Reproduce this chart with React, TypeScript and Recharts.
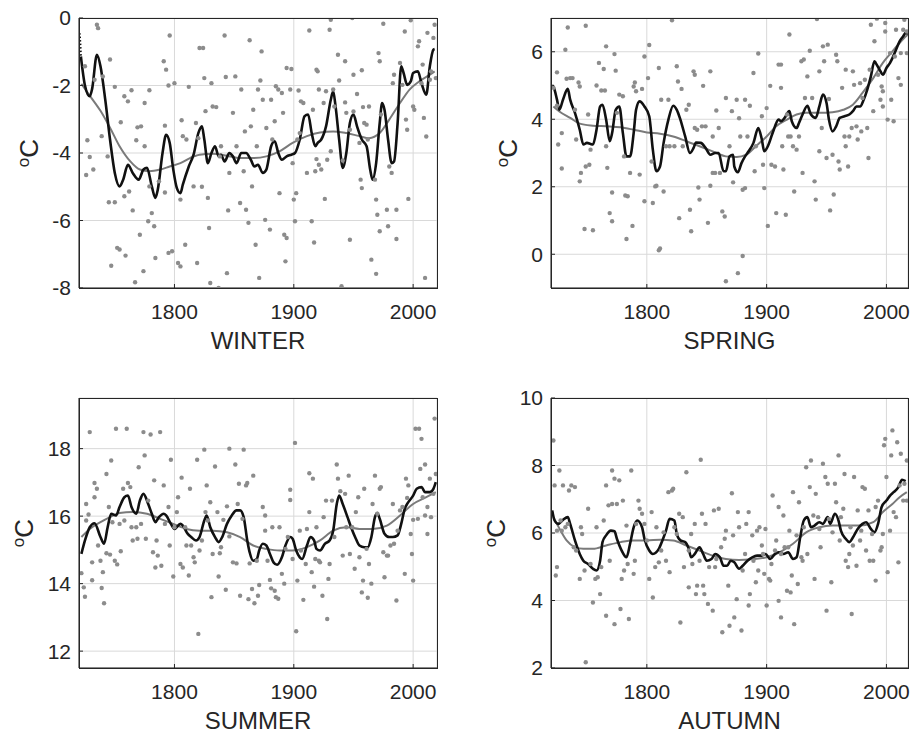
import React from 'react';
import { ComposedChart, Scatter, Line, XAxis, YAxis, CartesianGrid } from 'recharts';

type Pt = [number, number];

const FONT = '"Liberation Sans", Arial, Helvetica, sans-serif';
const TEXT = '#262626';

const X_TICKS = [1800, 1900, 2000];

const WINTER_TICKS = [-8, -6, -4, -2, 0];
const SPRING_TICKS = [0, 2, 4, 6];
const SUMMER_TICKS = [12, 14, 16, 18];
const AUTUMN_TICKS = [2, 4, 6, 8, 10];

const WINTER_DOTS: Pt[] = [[1725,-1.43],[1735,-0.2],[1736,-0.3],[1746,-1.23],[1733,-1.83],[1740,-1.73],[1750,-2.04],[1758,-2.32],[1761,-2.47],[1764,-2.14],[1775,-2.52],[1779,-2.14],[1727,-3.62],[1729,-4.12],[1732,-4.49],[1726,-4.65],[1739,-3.5],[1744,-4.1],[1745,-5.46],[1750,-5.46],[1747,-7.34],[1752,-6.81],[1754,-6.86],[1759,-7.04],[1755,-3.09],[1758,-5.28],[1762,-5.14],[1765,-5.7],[1767,-7.83],[1769,-3.24],[1772,-3.21],[1768,-3.62],[1771,-6.42],[1774,-7.5],[1775,-3.8],[1778,-6.02],[1781,-5.78],[1779,-4.99],[1783,-6.17],[1784,-7.11],[1787,-4.84],[1791,-1.28],[1793,-1.53],[1796,-0.52],[1795,-2.0],[1792,-3.19],[1792,-5.17],[1795,-6.96],[1798,-6.91],[1800,-1.93],[1803,-7.26],[1805,-7.36],[1805,-5.38],[1806,-3.03],[1807,-3.5],[1809,-6.72],[1810,-3.6],[1812,-2.04],[1816,-4.99],[1818,-3.11],[1819,-7.26],[1820,-3.56],[1821,-0.89],[1824,-0.89],[1823,-5.0],[1825,-1.78],[1826,-2.76],[1828,-5.33],[1829,-6.22],[1830,-7.85],[1831,-1.93],[1832,-2.62],[1835,-2.64],[1837,-8.0],[1838,-4.1],[1839,-3.8],[1842,-0.52],[1843,-1.75],[1844,-7.56],[1845,-5.7],[1846,-4.59],[1849,-2.81],[1851,-1.73],[1852,-3.8],[1855,-5.48],[1856,-2.12],[1858,-4.54],[1859,-3.36],[1860,-5.68],[1862,-6.07],[1863,-0.66],[1864,-3.21],[1865,-4.99],[1866,-2.72],[1869,-3.8],[1868,-6.72],[1870,-2.12],[1871,-7.7],[1873,-0.99],[1872,-1.85],[1874,-2.42],[1877,-3.26],[1876,-5.98],[1880,-6.27],[1881,-2.42],[1882,-3.6],[1884,-3.06],[1885,-2.02],[1888,-5.19],[1887,-2.12],[1890,-2.22],[1891,-2.81],[1892,-6.42],[1894,-6.52],[1893,-7.21],[1894,-1.48],[1898,-1.51],[1897,-2.12],[1899,-4.3],[1900,-5.38],[1902,-5.19],[1901,-6.02],[1903,-3.6],[1904,-2.15],[1905,-3.41],[1908,-2.52],[1906,-2.47],[1911,-4.59],[1913,-0.37],[1915,-6.02],[1916,-2.72],[1917,-6.65],[1918,-4.54],[1919,-4.18],[1919,-1.53],[1920,-1.58],[1921,-2.12],[1921,-4.35],[1923,-4.49],[1925,-2.52],[1926,-5.36],[1927,-2.17],[1928,-4.2],[1930,-0.35],[1931,-0.05],[1931,-3.95],[1933,-2.12],[1934,-2.62],[1937,-1.09],[1938,-1.85],[1940,-7.95],[1941,-4.22],[1943,-1.28],[1943,-2.5],[1944,-2.81],[1947,-6.57],[1947,-3.31],[1949,0],[1950,-2.77],[1950,-1.68],[1953,-2.25],[1955,-3.7],[1956,-4.79],[1957,-5.04],[1957,-1.55],[1958,-2.64],[1959,-3.11],[1961,-3.16],[1962,-3.6],[1963,-2.62],[1965,-7.16],[1968,-4.79],[1969,-5.38],[1969,-7.58],[1970,-5.83],[1971,-1.04],[1972,-1.28],[1972,-6.32],[1973,-2.86],[1975,-0.17],[1978,-5.68],[1979,-6.17],[1980,-4.4],[1982,-4.59],[1983,-1.93],[1984,-1.68],[1986,-5.68],[1986,-6.55],[1989,-1.33],[1991,-1.98],[1993,-0.4],[1994,-3.01],[1995,-3.31],[1996,-5.36],[1998,-0.07],[2000,-2.62],[2001,-2.72],[2004,-0.84],[2005,-0.69],[2007,-1.93],[2008,-1.38],[2009,-2.96],[2010,-7.7],[2011,-3.51],[2012,-0.44],[2014,-1.83],[2015,-1.58],[2017,-0.59],[2018,-0.2],[2019,-1.78]];

const WINTER_START: Pt[] = [[1720.6,-0.45],[1721.2,-0.8],[1721.6,-1.14]];

const WINTER_FIT: Pt[] = [[1721.6,-1.14],[1725,-2.0],[1729,-2.32],[1731,-2.1],[1735,-1.09],[1738,-1.43],[1742,-2.42],[1746,-3.6],[1750,-4.59],[1754,-4.99],[1757,-4.79],[1761,-4.35],[1765,-4.59],[1770,-4.79],[1774,-4.49],[1777,-4.44],[1781,-4.99],[1784,-5.33],[1786,-5.09],[1790,-4.0],[1793,-3.46],[1796,-3.7],[1799,-4.49],[1802,-5.04],[1805,-5.19],[1807,-4.94],[1812,-4.4],[1816,-4.05],[1820,-3.41],[1823,-3.21],[1825,-3.6],[1828,-4.3],[1831,-4.0],[1834,-3.8],[1837,-4.1],[1839,-4.05],[1842,-4.25],[1846,-4.0],[1849,-4.1],[1852,-4.3],[1856,-4.0],[1860,-4.0],[1864,-4.2],[1867,-4.4],[1870,-4.35],[1874,-4.59],[1877,-4.49],[1881,-3.8],[1884,-3.65],[1887,-4.0],[1890,-4.2],[1894,-4.1],[1898,-4.05],[1901,-4.0],[1905,-3.6],[1909,-2.91],[1912,-2.86],[1915,-3.41],[1918,-3.8],[1920,-3.7],[1923,-3.6],[1927,-3.21],[1931,-2.42],[1933,-2.17],[1935,-2.62],[1938,-3.6],[1941,-4.44],[1944,-4.0],[1947,-3.11],[1950,-2.86],[1953,-3.21],[1957,-3.6],[1961,-3.8],[1964,-4.49],[1966,-4.79],[1969,-4.3],[1972,-3.11],[1974,-2.52],[1976,-2.72],[1979,-3.6],[1982,-4.3],[1984,-4.25],[1987,-3.11],[1990,-1.43],[1992,-1.63],[1995,-1.98],[1998,-1.88],[2000,-1.63],[2004,-1.58],[2007,-1.93],[2011,-2.27],[2014,-1.43],[2017,-0.94],[2018,-0.92]];

const WINTER_SMOOTH: Pt[] = [[1722,-1.95],[1729,-2.3],[1738,-2.75],[1746,-3.25],[1754,-3.8],[1763,-4.25],[1771,-4.49],[1779,-4.54],[1788,-4.49],[1796,-4.4],[1805,-4.3],[1813,-4.15],[1821,-4.05],[1832,-4.02],[1844,-4.08],[1855,-4.15],[1866,-4.15],[1877,-4.1],[1888,-3.95],[1899,-3.7],[1911,-3.5],[1922,-3.39],[1933,-3.36],[1944,-3.41],[1955,-3.5],[1963,-3.56],[1972,-3.41],[1980,-3.01],[1989,-2.52],[1997,-2.12],[2005,-1.88],[2014,-1.68],[2018,-1.58]];

const SPRING_DOTS: Pt[] = [[1722,4.93],[1725,5.39],[1725,4.4],[1726,3.25],[1729,3.59],[1729,2.54],[1732,6.06],[1734,6.72],[1733,5.2],[1736,5.22],[1738,5.22],[1740,4.28],[1741,3.4],[1743,5.09],[1744,4.97],[1745,2.41],[1744,2.16],[1748,0.75],[1749,6.77],[1751,4.14],[1749,2.6],[1752,2.65],[1753,3.1],[1755,0.71],[1758,5.0],[1760,5.67],[1762,4.85],[1764,5.49],[1765,4.85],[1766,6.16],[1766,3.2],[1767,2.56],[1769,1.22],[1771,1.83],[1771,0.98],[1773,5.93],[1774,5.44],[1775,4.19],[1777,4.73],[1780,4.68],[1781,2.9],[1782,1.74],[1783,0.45],[1784,1.72],[1786,2.41],[1788,0.84],[1789,4.97],[1790,5.09],[1791,4.83],[1794,2.36],[1796,4.9],[1798,5.86],[1798,1.57],[1801,5.22],[1802,6.2],[1804,2.75],[1805,1.52],[1807,2.01],[1808,2.03],[1810,0.12],[1811,0.17],[1810,5.52],[1812,4.58],[1814,1.86],[1816,3.2],[1818,4.58],[1819,3.2],[1821,6.93],[1823,3.2],[1825,5.57],[1826,5.12],[1827,1.07],[1829,4.9],[1830,3.2],[1833,4.28],[1835,4.43],[1836,1.32],[1837,0.68],[1839,5.42],[1840,5.32],[1840,3.74],[1842,3.69],[1843,1.98],[1844,1.62],[1846,3.79],[1847,4.99],[1849,3.79],[1851,0.93],[1853,5.42],[1853,2.03],[1855,2.41],[1855,3.49],[1857,2.41],[1858,4.26],[1860,3.74],[1861,2.41],[1863,1.27],[1865,1.12],[1866,4.63],[1866,-0.8],[1869,3.2],[1871,4.24],[1872,2.13],[1875,4.58],[1876,-0.56],[1877,4.03],[1878,3.49],[1880,1.91],[1880,-0.05],[1882,1.96],[1882,4.58],[1884,3.49],[1886,4.4],[1889,5.37],[1890,2.46],[1891,3.2],[1893,5.95],[1896,4.09],[1897,2.65],[1898,1.96],[1900,4.33],[1901,0.84],[1903,4.99],[1904,2.65],[1907,2.6],[1908,1.22],[1910,5.62],[1912,4.93],[1912,5.62],[1913,3.2],[1914,2.51],[1916,1.17],[1917,4.14],[1918,3.49],[1919,6.51],[1920,3.49],[1922,3.2],[1923,1.86],[1925,3.1],[1927,3.49],[1929,5.72],[1930,2.41],[1931,5.77],[1932,4.63],[1934,5.27],[1936,6.03],[1938,4.63],[1940,2.16],[1941,1.62],[1942,6.97],[1944,5.42],[1944,3.05],[1946,3.74],[1947,6.16],[1948,5.72],[1950,2.85],[1951,6.21],[1952,4.6],[1953,1.3],[1955,2.95],[1956,1.77],[1958,5.91],[1959,5.72],[1960,2.75],[1961,2.51],[1963,4.93],[1965,3.49],[1966,3.2],[1966,5.47],[1968,2.6],[1969,3.49],[1971,3.74],[1972,5.42],[1973,5.02],[1975,3.79],[1976,3.4],[1978,5.07],[1979,3.64],[1980,4.63],[1982,5.17],[1984,3.74],[1985,2.85],[1986,5.47],[1987,6.8],[1989,4.24],[1990,6.31],[1992,6.98],[1993,5.32],[1995,4.58],[1996,4.97],[1997,4.83],[1997,4.38],[1999,6.6],[1999,6.85],[2001,3.99],[2003,5.96],[2004,4.58],[2006,3.94],[2007,5.86],[2008,6.65],[2010,5.22],[2012,5.02],[2012,5.96],[2014,6.65],[2015,6.95],[2017,6.6],[2017,5.96]];

const SPRING_FIT: Pt[] = [[1721,5.0],[1722,4.97],[1725,4.58],[1727,4.28],[1730,4.58],[1734,4.9],[1736,4.58],[1740,4.19],[1744,3.69],[1747,3.25],[1750,3.3],[1753,3.27],[1755,3.25],[1758,3.69],[1761,4.38],[1763,4.43],[1766,3.99],[1769,3.35],[1771,3.59],[1774,4.28],[1777,4.38],[1780,3.59],[1783,2.9],[1786,2.9],[1789,3.59],[1791,4.28],[1794,4.53],[1798,4.38],[1802,4.09],[1805,3.1],[1808,2.46],[1811,2.6],[1814,3.3],[1818,3.99],[1822,4.4],[1825,4.28],[1828,3.99],[1832,3.49],[1836,3.0],[1839,3.15],[1841,3.31],[1845,3.3],[1849,3.15],[1853,2.95],[1857,3.0],[1860,3.0],[1864,2.46],[1866,2.46],[1869,2.9],[1872,2.95],[1873,2.6],[1876,2.43],[1879,2.7],[1882,2.9],[1884,3.0],[1889,3.3],[1893,3.74],[1896,3.4],[1898,3.05],[1901,3.2],[1905,3.59],[1910,3.99],[1912,3.94],[1915,4.04],[1919,4.24],[1921,3.94],[1925,3.74],[1927,3.89],[1930,4.14],[1934,4.4],[1937,4.14],[1941,4.04],[1944,4.38],[1947,4.73],[1950,4.48],[1952,3.99],[1955,3.64],[1958,3.79],[1961,4.04],[1965,4.09],[1969,4.14],[1972,4.24],[1975,4.38],[1978,4.38],[1981,4.58],[1984,4.88],[1987,5.27],[1990,5.72],[1991,5.67],[1995,5.42],[1997,5.32],[2000,5.52],[2003,5.67],[2005,5.81],[2008,6.06],[2011,6.31],[2014,6.46],[2016,6.56],[2018,6.54]];

const SPRING_SMOOTH: Pt[] = [[1722,4.38],[1727,4.23],[1736,4.04],[1744,3.87],[1755,3.81],[1766,3.79],[1778,3.76],[1789,3.69],[1800,3.61],[1811,3.57],[1822,3.49],[1833,3.35],[1844,3.2],[1855,3.05],[1866,2.9],[1875,2.88],[1883,2.95],[1891,3.2],[1900,3.49],[1908,3.79],[1917,3.99],[1925,4.14],[1933,4.19],[1944,4.19],[1955,4.21],[1964,4.28],[1972,4.43],[1980,4.78],[1989,5.22],[1997,5.67],[2005,6.01],[2014,6.38],[2018,6.51]];

const SUMMER_DOTS: Pt[] = [[1722,14.31],[1724,13.89],[1725,13.61],[1726,15.87],[1726,16.36],[1728,16.05],[1729,18.49],[1731,14.63],[1731,14.1],[1733,16.56],[1733,16.98],[1735,16.81],[1736,15.13],[1738,14.68],[1739,13.87],[1740,14.34],[1741,13.42],[1743,17.25],[1743,14.9],[1745,16.27],[1746,14.86],[1747,17.65],[1748,15.82],[1750,14.68],[1751,18.59],[1752,14.57],[1754,15.77],[1755,14.96],[1757,16.81],[1758,15.87],[1760,18.59],[1761,16.98],[1763,16.86],[1764,15.67],[1765,15.28],[1768,15.67],[1769,15.33],[1770,17.45],[1772,15.77],[1774,18.49],[1775,17.8],[1776,15.33],[1778,16.46],[1780,18.42],[1782,14.93],[1783,17.06],[1784,14.48],[1785,15.28],[1786,14.83],[1788,18.49],[1789,14.53],[1791,16.91],[1792,15.77],[1795,16.27],[1796,15.13],[1797,17.67],[1799,14.21],[1800,15.67],[1802,16.12],[1803,16.56],[1805,14.58],[1806,17.14],[1807,14.48],[1809,15.67],[1810,15.13],[1812,14.24],[1813,16.81],[1814,15.13],[1816,14.78],[1817,14.63],[1819,17.67],[1820,12.51],[1821,14.98],[1823,15.28],[1825,17.97],[1826,16.12],[1827,16.91],[1828,15.87],[1830,16.41],[1831,13.6],[1832,14.88],[1834,17.47],[1836,16.12],[1837,14.21],[1838,14.9],[1839,15.08],[1841,15.89],[1843,13.82],[1844,16.29],[1846,18.0],[1846,15.4],[1849,14.63],[1851,17.53],[1852,14.6],[1853,16.36],[1854,16.96],[1855,13.64],[1857,15.92],[1858,17.97],[1860,16.91],[1861,16.98],[1862,13.54],[1863,14.6],[1865,13.84],[1866,17.2],[1867,13.42],[1869,14.68],[1870,13.64],[1871,13.96],[1874,16.27],[1876,15.57],[1876,16.02],[1878,14.68],[1880,14.11],[1881,13.86],[1882,15.67],[1884,13.79],[1885,13.6],[1887,13.55],[1888,15.67],[1890,14.29],[1892,14.0],[1893,15.03],[1895,15.38],[1897,16.78],[1897,16.48],[1899,14.73],[1901,18.17],[1902,12.59],[1903,14.09],[1905,15.57],[1906,14.98],[1908,13.52],[1910,14.58],[1911,15.62],[1913,17.27],[1913,16.12],[1915,14.34],[1916,17.11],[1917,13.91],[1918,14.73],[1919,15.67],[1921,14.68],[1922,14.63],[1924,13.64],[1925,15.97],[1927,16.46],[1928,12.95],[1929,14.14],[1930,14.58],[1932,16.46],[1934,15.38],[1936,17.53],[1937,17.11],[1939,16.74],[1941,14.83],[1943,16.66],[1944,15.67],[1946,17.2],[1947,14.88],[1949,15.67],[1951,14.44],[1952,16.12],[1954,16.56],[1955,14.78],[1957,13.74],[1958,14.09],[1959,16.81],[1961,15.03],[1962,13.58],[1963,14.58],[1965,14.0],[1966,16.36],[1968,17.2],[1970,16.07],[1972,16.81],[1973,16.86],[1975,14.93],[1976,14.19],[1978,14.83],[1979,14.83],[1981,15.13],[1983,16.36],[1984,15.18],[1986,13.5],[1987,15.57],[1989,16.17],[1991,16.27],[1993,14.29],[1994,17.11],[1995,16.54],[1996,16.91],[1998,15.47],[1999,14.88],[2000,14.09],[2000,15.89],[2002,18.59],[2004,15.92],[2005,18.59],[2006,17.4],[2007,18.29],[2008,16.56],[2010,16.02],[2010,17.53],[2012,15.47],[2012,16.27],[2014,17.11],[2015,15.97],[2017,16.66],[2018,18.89],[2019,17.25]];

const SUMMER_FIT: Pt[] = [[1722,14.88],[1725,15.28],[1729,15.67],[1733,15.79],[1738,15.38],[1741,15.18],[1744,15.67],[1747,16.07],[1751,16.02],[1754,16.27],[1758,16.56],[1761,16.61],[1764,16.27],[1768,16.07],[1771,16.46],[1774,16.66],[1778,16.36],[1781,16.07],[1784,15.82],[1787,15.97],[1791,16.07],[1793,16.02],[1797,15.77],[1800,15.62],[1805,15.77],[1807,15.72],[1811,15.48],[1814,15.38],[1818,15.28],[1821,15.38],[1825,15.87],[1827,16.02],[1830,15.67],[1834,15.38],[1837,15.23],[1840,15.38],[1844,15.77],[1848,16.02],[1852,16.17],[1855,16.17],[1858,15.97],[1861,15.28],[1863,14.93],[1866,14.68],[1869,14.73],[1871,14.98],[1874,15.18],[1877,15.13],[1880,14.88],[1883,14.63],[1886,14.56],[1890,14.78],[1893,15.13],[1897,15.38],[1899,15.33],[1902,14.98],[1905,14.78],[1907,14.73],[1911,15.13],[1914,15.38],[1917,15.28],[1919,15.03],[1922,14.98],[1926,15.18],[1930,15.28],[1933,15.57],[1936,16.36],[1938,16.61],[1941,16.36],[1945,15.97],[1948,15.67],[1952,15.33],[1955,15.13],[1959,15.08],[1962,15.08],[1965,15.38],[1968,15.97],[1970,16.09],[1972,15.92],[1976,15.48],[1980,15.38],[1983,15.38],[1987,15.43],[1990,15.77],[1993,16.22],[1995,16.36],[2000,16.61],[2003,16.81],[2007,16.86],[2010,16.71],[2014,16.71],[2017,16.81],[2019,17.01]];

const SUMMER_SMOOTH: Pt[] = [[1722,15.38],[1729,15.62],[1738,15.82],[1746,15.97],[1754,16.09],[1765,16.12],[1777,16.07],[1788,15.92],[1799,15.77],[1810,15.62],[1821,15.57],[1832,15.57],[1844,15.52],[1855,15.38],[1866,15.13],[1877,15.03],[1888,14.98],[1899,14.98],[1911,15.08],[1922,15.28],[1933,15.57],[1944,15.67],[1955,15.62],[1966,15.62],[1978,15.72],[1989,16.02],[2000,16.36],[2011,16.56],[2019,16.71]];

const AUTUMN_DOTS: Pt[] = [[1722,8.74],[1723,7.41],[1724,4.74],[1725,4.99],[1725,6.07],[1727,7.85],[1728,6.37],[1729,6.07],[1730,7.41],[1732,6.17],[1734,6.27],[1735,7.26],[1737,7.41],[1739,5.58],[1740,7.36],[1741,5.48],[1744,4.64],[1745,6.17],[1746,5.97],[1748,4.89],[1749,2.17],[1751,6.72],[1753,5.08],[1755,3.94],[1757,4.64],[1758,6.17],[1759,4.69],[1761,4.19],[1762,4.99],[1764,6.37],[1766,7.41],[1766,3.55],[1768,6.82],[1769,5.18],[1771,7.85],[1771,6.86],[1773,3.3],[1773,7.61],[1775,6.86],[1777,7.56],[1778,3.75],[1779,4.64],[1780,6.96],[1781,4.89],[1783,6.22],[1784,5.08],[1785,3.45],[1787,7.85],[1789,4.79],[1790,5.18],[1791,6.27],[1793,6.96],[1794,6.72],[1796,6.57],[1798,6.27],[1800,5.78],[1802,4.64],[1804,6.62],[1805,4.09],[1807,4.99],[1808,6.17],[1810,5.13],[1812,5.48],[1814,6.02],[1816,5.18],[1818,7.21],[1819,4.84],[1821,7.26],[1822,7.31],[1823,6.17],[1825,5.97],[1827,6.57],[1828,3.35],[1830,6.47],[1831,4.99],[1833,7.8],[1835,5.48],[1835,4.39],[1837,5.97],[1838,5.08],[1840,6.27],[1841,4.19],[1842,4.44],[1844,5.18],[1845,8.17],[1846,6.57],[1847,4.44],[1848,4.19],[1849,6.27],[1851,3.9],[1852,4.99],[1855,3.7],[1856,6.67],[1857,4.99],[1858,5.23],[1860,6.72],[1862,5.58],[1863,3.06],[1865,5.83],[1866,6.07],[1868,4.44],[1869,3.25],[1871,7.18],[1872,5.93],[1873,3.5],[1875,4.04],[1876,6.62],[1877,6.17],[1879,3.11],[1880,4.89],[1882,5.38],[1883,6.27],[1885,3.85],[1885,6.62],[1886,4.19],[1888,5.93],[1889,5.18],[1891,4.54],[1892,6.07],[1893,4.89],[1894,6.17],[1896,5.63],[1897,5.38],[1898,4.79],[1899,6.12],[1900,3.85],[1902,4.64],[1903,4.59],[1904,5.08],[1905,7.11],[1907,5.48],[1908,5.78],[1910,3.99],[1910,6.77],[1912,5.38],[1912,3.5],[1914,6.52],[1915,5.58],[1917,4.29],[1918,5.58],[1919,6.07],[1920,4.24],[1921,4.74],[1922,7.21],[1923,3.3],[1925,5.93],[1926,4.49],[1927,6.91],[1929,5.28],[1930,5.18],[1931,6.17],[1933,7.95],[1934,5.38],[1936,7.36],[1937,8.15],[1939,6.52],[1940,4.64],[1941,7.16],[1943,6.47],[1944,6.12],[1945,5.58],[1947,8.05],[1949,7.66],[1950,3.7],[1951,7.46],[1952,6.42],[1954,4.54],[1955,6.02],[1957,7.46],[1958,6.91],[1960,8.3],[1961,5.78],[1962,6.47],[1964,6.72],[1965,7.75],[1966,5.18],[1968,4.99],[1969,5.38],[1970,6.17],[1971,3.6],[1972,5.63],[1973,7.66],[1975,5.03],[1976,6.67],[1978,5.78],[1979,6.07],[1980,7.36],[1982,7.31],[1983,5.48],[1985,6.67],[1986,5.18],[1988,5.97],[1989,5.18],[1991,6.77],[1991,4.59],[1993,6.96],[1995,5.48],[1996,5.58],[1997,5.97],[1998,8.6],[1999,8.79],[2000,7.66],[2001,4.84],[2003,6.07],[2004,8.3],[2005,9.04],[2006,6.62],[2008,6.47],[2009,8.69],[2010,5.13],[2011,7.41],[2012,8.35],[2014,6.96],[2015,7.46],[2017,8.15],[2017,6.96]];

const AUTUMN_FIT: Pt[] = [[1721,6.67],[1723,6.37],[1726,6.27],[1730,6.39],[1734,6.47],[1736,6.27],[1740,5.78],[1744,5.38],[1747,5.18],[1751,5.08],[1755,4.94],[1758,4.89],[1761,5.18],[1763,5.73],[1766,5.93],[1770,6.07],[1773,6.05],[1775,5.83],[1779,5.48],[1783,5.28],[1786,5.68],[1789,6.17],[1792,6.37],[1796,6.17],[1798,5.83],[1802,5.48],[1805,5.38],[1810,5.53],[1813,5.78],[1816,6.07],[1819,6.42],[1823,6.37],[1825,5.97],[1828,5.78],[1832,5.73],[1835,5.53],[1837,5.28],[1840,5.38],[1844,5.58],[1847,5.38],[1850,5.18],[1854,5.23],[1857,5.38],[1861,5.28],[1864,5.03],[1867,5.03],[1870,5.18],[1873,5.13],[1877,4.94],[1880,5.03],[1884,5.18],[1888,5.28],[1892,5.33],[1896,5.33],[1899,5.38],[1903,5.23],[1907,5.38],[1910,5.43],[1914,5.38],[1918,5.43],[1922,5.23],[1925,5.28],[1928,5.87],[1931,6.37],[1934,6.47],[1937,6.17],[1940,6.22],[1944,6.32],[1947,6.27],[1951,6.47],[1953,6.27],[1957,6.57],[1960,6.37],[1962,6.07],[1966,5.83],[1969,5.73],[1973,5.93],[1976,6.12],[1980,6.27],[1983,6.32],[1987,6.12],[1990,6.02],[1993,6.27],[1996,6.77],[2000,6.96],[2003,7.11],[2006,7.21],[2010,7.36],[2013,7.58],[2016,7.54]];

const AUTUMN_SMOOTH: Pt[] = [[1722,6.47],[1728,6.07],[1733,5.78],[1740,5.58],[1747,5.53],[1755,5.53],[1766,5.63],[1778,5.73],[1789,5.78],[1800,5.78],[1811,5.8],[1822,5.78],[1833,5.63],[1844,5.48],[1855,5.33],[1866,5.23],[1877,5.2],[1889,5.23],[1900,5.28],[1911,5.43],[1922,5.68],[1933,6.02],[1944,6.17],[1955,6.22],[1966,6.22],[1978,6.22],[1989,6.32],[1997,6.62],[2005,6.86],[2011,7.06],[2017,7.21]];

const toXY = (a: Pt[]) => a.map(([x, y]) => ({ x, y }));

const YW = 70;
const PLOT_H = 270;
const M_TOP = 20;
const M_RIGHT = 3;
const XA_H = 40;
const TICK_IN = -4;

const Dot = (p: any) => <circle cx={p.cx} cy={p.cy} r={2.2} fill="#8c8c8c" />;

interface PanelProps {
  plotLeft: number;
  plotTop: number;
  plotW: number;
  xMax: number;
  yDomain: [number, number];
  yTicks: number[];
  dots: Pt[];
  fit: Pt[];
  smooth: Pt[];
  start?: Pt[];
  title: string;
  yLabelX: number;
}

function Panel(p: PanelProps) {
  const width = YW + p.plotW + M_RIGHT;
  const height = M_TOP + PLOT_H + XA_H;
  const tickStyle = { fill: TEXT, fontSize: 21, fontFamily: FONT };
  return (
    <>
      <div style={{ position: 'absolute', left: p.plotLeft - YW, top: p.plotTop - M_TOP }}>
        <ComposedChart width={width} height={height} margin={{ top: M_TOP, right: M_RIGHT, bottom: 0, left: 0 }}>
          <CartesianGrid stroke="#d9d9d9" strokeWidth={1} />
          <XAxis
            type="number"
            dataKey="x"
            domain={[1720, p.xMax]}
            ticks={X_TICKS}
            allowDataOverflow
            height={XA_H}
            tickSize={TICK_IN}
            tickMargin={20}
            tickLine={{ stroke: TEXT }}
            axisLine={{ stroke: TEXT }}
            tick={tickStyle}
          />
          <YAxis
            type="number"
            dataKey="y"
            domain={p.yDomain}
            ticks={p.yTicks}
            allowDataOverflow
            width={YW}
            tickSize={TICK_IN}
            tickMargin={12}
            tickLine={{ stroke: TEXT }}
            axisLine={{ stroke: TEXT }}
            tick={tickStyle}
            interval={0}
          />
          <Scatter data={toXY(p.dots)} shape={Dot} isAnimationActive={false} />
          <Line data={toXY(p.smooth)} dataKey="y" type="monotone" stroke="#7a7a7a" strokeWidth={2} dot={false} isAnimationActive={false} />
          {p.start ? (
            <Line data={toXY(p.start)} dataKey="y" type="linear" stroke="#111111" strokeWidth={2} strokeDasharray="1.5 2" dot={false} isAnimationActive={false} />
          ) : null}
          <Line data={toXY(p.fit)} dataKey="y" type="monotone" stroke="#111111" strokeWidth={2.6} dot={false} isAnimationActive={false} />
        </ComposedChart>
      </div>
      <div
        style={{
          position: 'absolute',
          left: p.plotLeft,
          top: p.plotTop,
          width: p.plotW + 1,
          height: PLOT_H + 1,
          boxSizing: 'border-box',
          border: `1px solid ${TEXT}`,
          pointerEvents: 'none',
        }}
      />
      <div
        style={{
          position: 'absolute',
          left: p.yLabelX,
          top: p.plotTop + PLOT_H / 2,
          transform: 'translate(-50%, -50%) rotate(-90deg)',
          fontFamily: FONT,
          fontSize: 26,
          color: TEXT,
          lineHeight: 1,
          whiteSpace: 'nowrap',
        }}
      >
        <span style={{ fontSize: 17, position: 'relative', top: '-0.55em' }}>o</span>C
      </div>
      <div
        style={{
          position: 'absolute',
          left: p.plotLeft + p.plotW / 2,
          top: p.plotTop + PLOT_H + 53,
          transform: 'translate(-50%, -50%)',
          fontFamily: FONT,
          fontSize: 24,
          color: TEXT,
          lineHeight: '18px',
          whiteSpace: 'nowrap',
        }}
      >
        {p.title}
      </div>
    </>
  );
}

export default function App() {
  return (
    <div style={{ position: 'absolute', left: 0, top: 0, width: 911, height: 734, background: '#ffffff', overflow: 'hidden' }}>
      <Panel plotLeft={79} plotTop={18} plotW={358} xMax={2020} yDomain={[-8, 0]} yTicks={WINTER_TICKS}
        dots={WINTER_DOTS} fit={WINTER_FIT} smooth={WINTER_SMOOTH} start={WINTER_START} title="WINTER" yLabelX={29} />
      <Panel plotLeft={551} plotTop={18} plotW={357} xMax={2018} yDomain={[-1, 7]} yTicks={SPRING_TICKS}
        dots={SPRING_DOTS} fit={SPRING_FIT} smooth={SPRING_SMOOTH} title="SPRING" yLabelX={508} />
      <Panel plotLeft={79} plotTop={398} plotW={358} xMax={2020} yDomain={[11.5, 19.5]} yTicks={SUMMER_TICKS}
        dots={SUMMER_DOTS} fit={SUMMER_FIT} smooth={SUMMER_SMOOTH} title="SUMMER" yLabelX={24} />
      <Panel plotLeft={551} plotTop={398} plotW={357} xMax={2018} yDomain={[2, 10]} yTicks={AUTUMN_TICKS}
        dots={AUTUMN_DOTS} fit={AUTUMN_FIT} smooth={AUTUMN_SMOOTH} title="AUTUMN" yLabelX={496} />
    </div>
  );
}
